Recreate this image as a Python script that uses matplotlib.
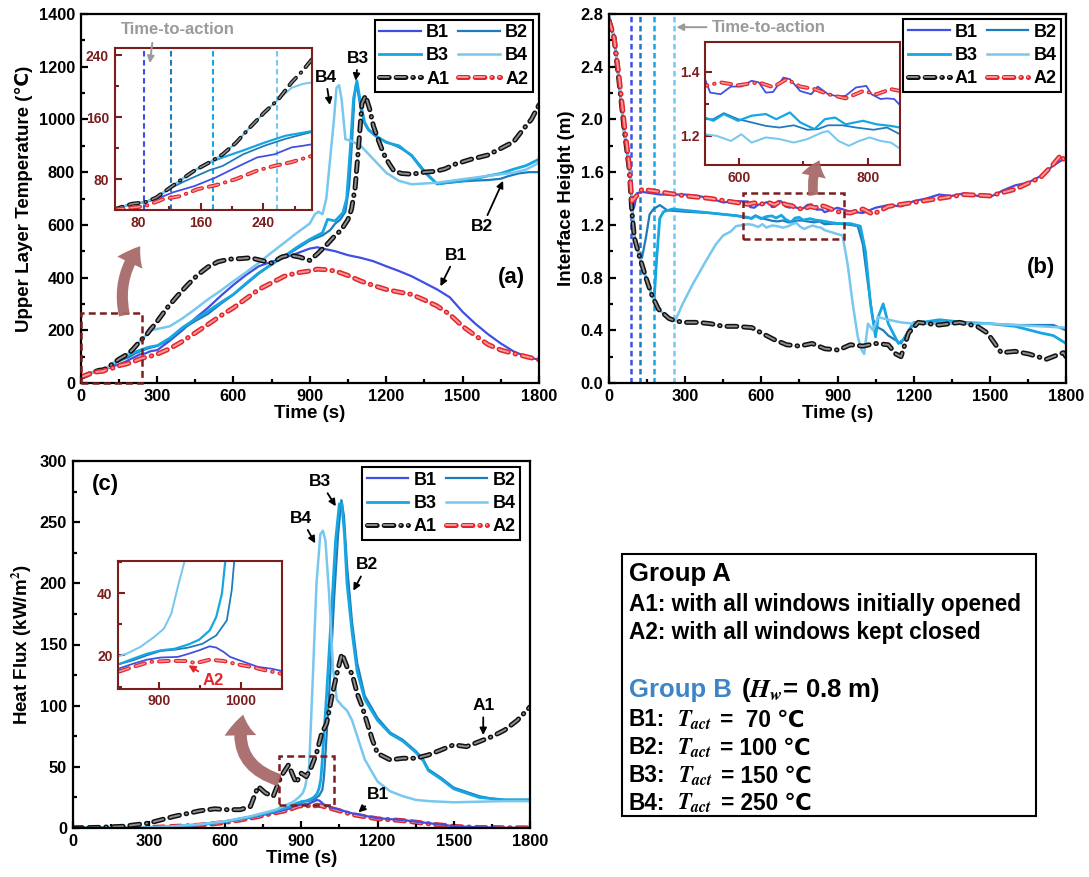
import matplotlib
matplotlib.use("Agg")
import matplotlib.pyplot as plt
import matplotlib.patheffects as pe
from matplotlib.patches import Rectangle, FancyArrowPatch
from matplotlib.ticker import MultipleLocator, FormatStrFormatter

plt.rcParams["font.family"] = ["Liberation Sans", "DejaVu Sans"]
plt.rcParams["font.weight"] = "bold"
plt.rcParams["axes.labelweight"] = "bold"
plt.rcParams["mathtext.fontset"] = "stix"
plt.rcParams["lines.scale_dashes"] = False

W, H = 1089, 877

# ---------------- (a) upper layer temperature ----------------
temp_time_B1 = [0, 50, 72, 89, 103, 125, 152, 179, 205, 232, 254, 276, 290, 302, 350, 400, 450, 500, 550, 600,
                650, 700, 750, 800, 850, 900, 930, 960, 1000, 1050, 1100, 1150, 1200, 1250, 1300, 1350, 1400, 1450,
                1500, 1550, 1600, 1650, 1700, 1750, 1800]
temp_B1 = [22, 41, 48, 50, 54, 63, 71, 82, 95, 108, 112, 121, 123, 125, 160, 200, 245, 285, 330, 372,
           410, 443, 460, 475, 492, 510, 515, 508, 500, 485, 475, 462, 443, 425, 405, 380, 355, 325,
           270, 225, 185, 150, 120, 100, 88]

temp_time_B2 = [0, 50, 72, 89, 103, 121, 139, 170, 188, 214, 241, 268, 302, 350, 400, 450, 500, 550, 600, 650,
                700, 750, 800, 850, 900, 950, 980, 1000, 1020, 1040, 1055, 1065, 1075, 1082, 1090, 1100, 1115, 1130,
                1160, 1200, 1250, 1300, 1350, 1400, 1450, 1500, 1550, 1600, 1650, 1680, 1720, 1760, 1800]
temp_B2 = [22, 41, 48, 50, 56, 68, 77, 91, 97, 112, 123, 132, 141, 165, 205, 235, 262, 300, 335, 375,
           415, 450, 480, 510, 540, 560, 580, 605, 620, 650, 750, 900, 1080, 1135, 1100, 1040, 985, 960,
           935, 915, 895, 865, 805, 755, 760, 765, 768, 770, 775, 785, 795, 800, 800]

temp_time_B3 = [0, 50, 72, 89, 103, 121, 139, 152, 170, 188, 214, 241, 268, 302, 350, 400, 450, 500, 550, 600,
                650, 700, 750, 800, 850, 900, 950, 970, 1000, 1030, 1045, 1060, 1072, 1085, 1100, 1115, 1130, 1160,
                1200, 1250, 1300, 1350, 1400, 1450, 1500, 1550, 1600, 1650, 1700, 1750, 1800]
temp_B3 = [22, 41, 48, 50, 56, 69, 82, 91, 101, 108, 117, 127, 136, 142, 170, 210, 242, 272, 305, 336,
           378, 418, 450, 481, 515, 545, 570, 621, 615, 646, 700, 900, 1080, 1147, 1060, 990, 963, 938,
           913, 900, 862, 800, 755, 762, 767, 775, 786, 795, 811, 825, 849]

temp_time_B4 = [0, 50, 72, 89, 103, 121, 139, 152, 170, 188, 205, 223, 241, 259, 276, 290, 302, 350, 400, 450,
                500, 550, 600, 650, 700, 750, 800, 850, 900, 920, 935, 950, 965, 980, 995, 1005, 1015, 1025, 1040,
                1060, 1100, 1150, 1200, 1250, 1300, 1400, 1500, 1600, 1700, 1750, 1800]
temp_B4 = [22, 41, 48, 50, 56, 69, 82, 91, 101, 112, 127, 147, 166, 183, 198, 203, 205, 215, 245, 280,
           317, 350, 386, 420, 456, 495, 532, 570, 605, 640, 650, 640, 700, 850, 1000, 1120, 1130, 1077, 925,
           919, 900, 849, 798, 767, 754, 760, 773, 786, 798, 810, 836]

temp_time_A1 = [0, 50, 72, 89, 103, 121, 139, 152, 170, 188, 205, 223, 241, 259, 276, 290, 302, 340, 380, 420,
                460, 500, 540, 585, 630, 667, 710, 750, 790, 820, 860, 900, 930, 968, 1000, 1023, 1050, 1064, 1078,
                1092, 1105, 1119, 1135, 1150, 1170, 1190, 1210, 1230, 1260, 1300, 1350, 1392, 1430, 1470, 1530,
                1600, 1660, 1700, 1740, 1770, 1800]
temp_A1 = [20, 41, 48, 50, 56, 69, 82, 91, 101, 112, 127, 147, 166, 183, 205, 220, 235, 285, 330, 372,
           410, 440, 460, 470, 472, 475, 465, 455, 478, 485, 478, 465, 490, 526, 560, 580, 620, 660, 740,
           900, 1060, 1090, 1040, 975, 920, 870, 835, 805, 795, 792, 800, 803, 812, 830, 848,
           865, 895, 915, 965, 1000, 1055]

temp_time_A2 = [0, 54, 89, 112, 134, 156, 179, 205, 232, 254, 276, 302, 350, 400, 450, 500, 550, 600, 650, 700,
                750, 800, 850, 900, 930, 960, 1000, 1050, 1100, 1150, 1200, 1250, 1300, 1350, 1400, 1450, 1500,
                1550, 1600, 1650, 1700, 1750, 1800]
temp_A2 = [22, 41, 45, 54, 58, 67, 72, 80, 91, 97, 102, 110, 130, 158, 190, 222, 255, 285, 320, 355,
           380, 405, 418, 425, 432, 430, 425, 408, 387, 370, 355, 345, 336, 315, 292, 260, 215,
           180, 146, 125, 112, 100, 88]

# ---------------- (b) interface height ----------------
height_time_B1 = [0, 20, 40, 60, 75, 85, 92, 100, 110, 130, 200, 250, 300, 350, 400, 450, 500, 548, 556, 572,
                  588, 604, 620, 631, 642, 653, 669, 679, 695, 712, 722, 738, 754, 765, 781, 797, 805, 819, 829, 840,
                  849, 900, 950, 1000, 1050, 1100, 1150, 1200, 1250, 1300, 1350, 1400, 1450, 1500, 1550, 1600,
                  1650, 1700, 1750, 1800]
height_B1 = [2.78, 2.62, 2.28, 1.90, 1.72, 1.58, 1.30, 1.34, 1.44, 1.45, 1.43, 1.43, 1.43, 1.42, 1.40, 1.37, 1.38,
             1.377, 1.335, 1.33, 1.354, 1.354, 1.372, 1.367, 1.335, 1.337, 1.382, 1.377, 1.34, 1.33, 1.354, 1.33,
             1.323, 1.325, 1.351, 1.356, 1.33, 1.315, 1.317, 1.315, 1.296, 1.33, 1.30, 1.29, 1.33, 1.35, 1.34,
             1.38, 1.40, 1.43, 1.42, 1.44, 1.42, 1.41, 1.46, 1.50, 1.52, 1.57, 1.65, 1.71]

height_time_B2 = [0, 20, 40, 60, 75, 85, 92, 100, 120, 130, 145, 160, 175, 200, 230, 300, 400, 500, 548, 561,
                  577, 599, 620, 642, 663, 685, 706, 722, 738, 760, 781, 808, 829, 849, 900, 950, 980, 1000, 1020,
                  1040, 1060, 1080, 1100, 1150, 1180, 1200, 1300, 1400, 1500, 1600, 1700, 1750, 1800]
height_B2 = [2.78, 2.62, 2.28, 1.90, 1.72, 1.58, 1.30, 1.10, 0.96, 0.95, 1.10, 1.28, 1.32, 1.35, 1.31, 1.30, 1.29,
             1.27, 1.252, 1.252, 1.271, 1.252, 1.242, 1.231, 1.226, 1.233, 1.219, 1.221, 1.233, 1.233, 1.226,
             1.219, 1.226, 1.205, 1.21, 1.20, 1.19, 1.05, 0.75, 0.48, 0.42, 0.40, 0.36, 0.30, 0.40, 0.46, 0.46,
             0.45, 0.45, 0.44, 0.44, 0.44, 0.40]

height_time_B3 = [0, 20, 40, 60, 75, 85, 92, 100, 120, 147, 170, 178, 188, 200, 215, 250, 300, 400, 500, 548,
                  561, 577, 599, 620, 642, 658, 679, 695, 717, 733, 749, 765, 792, 813, 835, 849, 900, 950, 990,
                  1010, 1030, 1050, 1060, 1080, 1100, 1140, 1160, 1200, 1300, 1400, 1500, 1600, 1700, 1750, 1800]
height_B3 = [2.78, 2.62, 2.28, 1.90, 1.72, 1.58, 1.30, 1.10, 0.96, 0.79, 0.66, 0.64, 0.95, 1.25, 1.30, 1.32, 1.31,
             1.29, 1.27, 1.257, 1.247, 1.268, 1.247, 1.263, 1.268, 1.252, 1.273, 1.242, 1.221, 1.252, 1.257,
             1.236, 1.247, 1.236, 1.231, 1.226, 1.21, 1.21, 1.19, 1.00, 0.60, 0.35, 0.50, 0.60, 0.45, 0.30,
             0.33, 0.45, 0.48, 0.46, 0.45, 0.43, 0.38, 0.36, 0.30]

height_time_B4 = [0, 20, 40, 60, 75, 85, 92, 100, 120, 147, 170, 195, 236, 260, 290, 330, 380, 420, 450, 480,
                  500, 548, 566, 588, 604, 620, 642, 663, 685, 706, 728, 738, 754, 770, 786, 802, 819, 835, 849,
                  900, 920, 940, 960, 980, 995, 1005, 1020, 1040, 1060, 1100, 1150, 1200, 1300, 1400, 1500, 1600,
                  1700, 1800]
height_B4 = [2.78, 2.62, 2.28, 1.90, 1.72, 1.58, 1.30, 1.10, 0.96, 0.79, 0.66, 0.56, 0.49, 0.47, 0.60, 0.75, 0.92,
             1.05, 1.12, 1.15, 1.19, 1.205, 1.20, 1.184, 1.205, 1.179, 1.195, 1.19, 1.179, 1.19, 1.21, 1.215,
             1.184, 1.169, 1.184, 1.195, 1.184, 1.179, 1.16, 1.13, 1.12, 0.90, 0.60, 0.35, 0.25, 0.22, 0.45,
             0.40, 0.50, 0.48, 0.46, 0.45, 0.45, 0.45, 0.45, 0.44, 0.43, 0.42]

height_time_A1 = [0, 20, 40, 60, 80, 90, 100, 120, 147, 170, 195, 236, 263, 300, 350, 400, 450, 500, 563, 600,
                  650, 700, 750, 800, 850, 904, 950, 1000, 1050, 1100, 1130, 1150, 1180, 1218, 1300, 1381, 1450,
                  1490, 1545, 1600, 1654, 1722, 1790, 1800]
height_A1 = [2.75, 2.62, 2.28, 1.92, 1.62, 1.30, 1.10, 0.96, 0.79, 0.66, 0.56, 0.49, 0.47, 0.46, 0.46, 0.45, 0.43,
             0.43, 0.42, 0.38, 0.33, 0.29, 0.28, 0.30, 0.26, 0.25, 0.29, 0.28, 0.30, 0.29, 0.22, 0.20, 0.38,
             0.46, 0.44, 0.46, 0.43, 0.38, 0.23, 0.24, 0.22, 0.18, 0.23, 0.20]

height_time_A2 = [0, 20, 40, 60, 80, 90, 100, 130, 200, 300, 400, 500, 548, 572, 599, 631, 653, 674, 695, 717,
                  738, 765, 792, 813, 835, 849, 900, 950, 1000, 1040, 1100, 1200, 1300, 1400, 1500, 1600, 1700,
                  1750, 1780, 1800]
height_A2 = [2.75, 2.62, 2.32, 1.97, 1.65, 1.38, 1.40, 1.47, 1.45, 1.42, 1.40, 1.37, 1.356, 1.367, 1.358, 1.367,
             1.352, 1.377, 1.354, 1.346, 1.33, 1.317, 1.34, 1.33, 1.346, 1.34, 1.30, 1.29, 1.32, 1.28, 1.34,
             1.37, 1.40, 1.43, 1.42, 1.47, 1.56, 1.66, 1.73, 1.67]

# ---------------- (c) heat flux ----------------
flux_time_B1 = [0, 300, 400, 500, 600, 700, 800, 850, 868, 885, 902, 923, 936, 949, 962, 970, 979, 987, 1004,
                1021, 1038, 1050, 1100, 1150, 1200, 1300, 1400, 1500, 1600, 1700, 1800]
flux_B1 = [0, 0.3, 1, 2.5, 5, 8.5, 13, 15.7, 17.3, 18.6, 19.3, 19.5, 20.5, 21.6, 22.9, 22.5, 21.1, 19.5, 17.9,
           16.3, 15.7, 15, 12, 10, 8, 6.5, 4, 1.5, 0.5, 0.2, 0.1]

flux_time_B2 = [0, 300, 400, 500, 600, 700, 800, 850, 868, 885, 902, 919, 936, 953, 970, 983, 989, 992, 1010,
                1030, 1045, 1058, 1068, 1080, 1100, 1120, 1150, 1200, 1250, 1300, 1350, 1380, 1400, 1450, 1500,
                1600, 1650, 1700, 1800]
flux_B2 = [0, 0.3, 1.1, 2.7, 5, 9, 14, 17.1, 18.4, 20, 21.4, 21.8, 22.5, 23.7, 26.4, 31.2, 40.9, 50, 110,
           190, 240, 268, 255, 215, 168, 135, 108, 90, 78, 72, 63, 56, 48, 41, 33,
           26, 24, 23, 23]

flux_time_B3 = [0, 300, 400, 500, 600, 700, 800, 850, 868, 885, 902, 919, 936, 949, 962, 970, 977, 981, 1000,
                1020, 1035, 1050, 1060, 1070, 1080, 1100, 1120, 1150, 1200, 1250, 1300, 1350, 1380, 1400, 1450,
                1500, 1600, 1650, 1700, 1800]
flux_B3 = [0, 0.3, 1.2, 2.8, 5, 9, 14, 17.1, 18.9, 20.5, 21.6, 22.1, 23.5, 25, 28, 32.3, 39.8, 50, 110,
           180, 235, 265, 265, 240, 200, 160, 128, 105, 88, 77, 71, 62, 55, 47, 40,
           32, 25, 24, 23, 23]

flux_time_B4 = [0, 300, 400, 500, 600, 700, 800, 850, 860, 877, 894, 906, 915, 923, 931, 945, 960, 975, 985,
                995, 1010, 1025, 1040, 1060, 1080, 1100, 1150, 1200, 1250, 1300, 1350, 1400, 1500, 1600, 1700,
                1800]
flux_B4 = [0, 0.5, 1.5, 3, 5.5, 9.5, 15, 19.7, 20.5, 22.7, 25.9, 28.6, 33.4, 42, 50, 120, 200, 240, 243,
           235, 190, 130, 105, 100, 96, 88, 56, 38, 30, 26, 23, 22, 21, 21.5, 22, 22]

flux_time_A1 = [0, 100, 200, 300, 400, 500, 560, 600, 660, 700, 730, 760, 790, 820, 850, 880, 900, 920, 940,
                960, 980, 1000, 1020, 1040, 1060, 1080, 1100, 1120, 1140, 1160, 1180, 1200, 1250, 1300, 1350,
                1400, 1450, 1500, 1550, 1600, 1650, 1700, 1750, 1800]
flux_A1 = [0, 0.5, 1.4, 4, 9.5, 14, 15.7, 15, 15, 17.6, 34, 28.5, 26, 42, 51.6, 36.7, 44.8, 42, 50,
           61, 77, 85.5, 107, 126, 142.5, 131.7, 126, 110, 99, 85.5, 72, 61, 55.7, 57, 57,
           59.7, 63.8, 68, 66.5, 70.6, 74.7, 80, 88, 99]

flux_time_A2 = [0, 300, 500, 600, 700, 800, 850, 868, 889, 911, 932, 945, 962, 979, 996, 1013, 1030, 1050, 1100,
                1200, 1300, 1400, 1500, 1600, 1800]
flux_A2 = [0, 0.3, 2.3, 4.5, 8, 12.5, 14.7, 16.3, 17.9, 18.2, 18.2, 17.5, 18.6, 18.2, 17.1, 16.3, 15.2, 14.1, 11,
           7.5, 6, 3.5, 1.3, 0.4, 0.1]

# time-to-action of the B cases (s)
action_time = [88, 122, 176, 257]

group_a_lines = ["A1: with all windows initially opened", "A2: with all windows kept closed"]
group_b_temps = ["70", "100", "150", "250"]

# ---------------- styles ----------------
LINE_COLORS = {"B1": "#3F4FE3", "B2": "#1F7BBC", "B3": "#16A6E2", "B4": "#78C7EF",
               "A1": "#8E8E8E", "A2": "#F59A9A"}
EDGE_COLORS = {"A1": "#111111", "A2": "#E5252B"}
LINE_WIDTHS = {"B1": 1.6, "B2": 1.6, "B3": 2.0, "B4": 1.8}
DASH = (7, 5, 7, 5, 0.4, 5)
MAROON = "#7B1E1E"
ARROW_COLOR = "#A86A6A"
GREY = "#9A9A9A"


def px_rect(l, t, r, b):
    return [l / W, 1 - b / H, (r - l) / W, (b - t) / H]


def plot_panel(ax, data, scale=1.0, skip=(), a2_under=False):
    for key in ["B1", "B2", "B3", "B4"]:
        t, v = data[key]
        ax.plot(t, v, color=LINE_COLORS[key], lw=LINE_WIDTHS[key] * scale, label=key, zorder=2)
    for key in ["A1", "A2"]:
        if key in skip:
            continue
        t, v = data[key]
        z = 1.5 if (key == "A2" and a2_under) else 2.5
        ax.plot(t, v, color=LINE_COLORS[key], lw=1.4 * scale, label=key, dashes=DASH,
                dash_capstyle="round", zorder=z,
                path_effects=[pe.Stroke(linewidth=3.6 * scale, foreground=EDGE_COLORS[key]), pe.Normal()])


def style_axes(ax, xmaj, xmin, ymaj, ymin, color="black", size=11.8, lw=1.6):
    ax.xaxis.set_major_locator(MultipleLocator(xmaj))
    ax.xaxis.set_minor_locator(MultipleLocator(xmin))
    ax.yaxis.set_major_locator(MultipleLocator(ymaj))
    ax.yaxis.set_minor_locator(MultipleLocator(ymin))
    ax.tick_params(which="both", direction="in", top=False, right=False, width=lw,
                   colors=color, labelsize=size, pad=4)
    ax.tick_params(which="major", length=5)
    ax.tick_params(which="minor", length=3)
    for sp in ax.spines.values():
        sp.set_linewidth(lw)
        sp.set_color(color)


def add_legend(ax, anchor):
    handles, labels = ax.get_legend_handles_labels()
    lookup = dict(zip(labels, handles))
    order = ["B1", "B3", "A1", "B2", "B4", "A2"]
    leg = ax.legend([lookup[k] for k in order], order, ncol=2, loc="upper right",
                    bbox_to_anchor=anchor, fontsize=13, frameon=True, fancybox=False,
                    edgecolor="black", framealpha=1, handlelength=2.3, handletextpad=0.3,
                    columnspacing=0.5, labelspacing=0.35, borderpad=0.25, borderaxespad=0)
    leg.get_frame().set_linewidth(1.5)


def label_arrow(ax, text, xy, xytext, size=12.5, color="black"):
    ax.annotate(text, xy=xy, xytext=xytext, ha="center", va="center", fontsize=size,
                color=color, fontweight="bold", annotation_clip=False,
                arrowprops=dict(arrowstyle="-|>", color=color, lw=1.3, mutation_scale=10,
                                shrinkA=1, shrinkB=0))


def big_arrow(p0, p1, rad, head_w=2.0, head_l=1.4, tail_w=0.8):
    arr = FancyArrowPatch((p0[0] / W, 1 - p0[1] / H), (p1[0] / W, 1 - p1[1] / H),
                          transform=fig.transFigure,
                          arrowstyle=f"simple,head_length={head_l},head_width={head_w},tail_width={tail_w}",
                          connectionstyle=f"arc3,rad={rad}", mutation_scale=10,
                          color=ARROW_COLOR, alpha=0.95, lw=0, zorder=5)
    fig.add_artist(arr)


temp_data = {"B1": (temp_time_B1, temp_B1), "B2": (temp_time_B2, temp_B2), "B3": (temp_time_B3, temp_B3),
             "B4": (temp_time_B4, temp_B4), "A1": (temp_time_A1, temp_A1), "A2": (temp_time_A2, temp_A2)}
height_data = {"B1": (height_time_B1, height_B1), "B2": (height_time_B2, height_B2),
               "B3": (height_time_B3, height_B3), "B4": (height_time_B4, height_B4),
               "A1": (height_time_A1, height_A1), "A2": (height_time_A2, height_A2)}
flux_data = {"B1": (flux_time_B1, flux_B1), "B2": (flux_time_B2, flux_B2), "B3": (flux_time_B3, flux_B3),
             "B4": (flux_time_B4, flux_B4), "A1": (flux_time_A1, flux_A1), "A2": (flux_time_A2, flux_A2)}

fig = plt.figure(figsize=(W / 100, H / 100), dpi=100)

# ---------------- panel (a) ----------------
ax_a = fig.add_axes(px_rect(80.5, 14, 539, 383))
plot_panel(ax_a, temp_data)
ax_a.set_xlim(0, 1800)
ax_a.set_ylim(0, 1400)
style_axes(ax_a, 300, 150, 200, 100)
ax_a.set_xlabel("Time (s)", fontsize=13.5, labelpad=1)
ax_a.set_ylabel("Upper Layer Temperature (℃)", fontsize=13.5, labelpad=4)
add_legend(ax_a, (0.986, 0.985))
ax_a.add_patch(Rectangle((0, 0), 243, 266, fill=False, ec=MAROON, lw=1.8, ls=(0, (5, 3)), clip_on=False, zorder=6))
label_arrow(ax_a, "B4", (979, 1055), (962, 1160))
label_arrow(ax_a, "B3", (1080, 1147), (1091, 1232))
label_arrow(ax_a, "B2", (1659, 767), (1577, 593))
label_arrow(ax_a, "B1", (1413, 367), (1474, 485))
ax_a.text(1693, 399, "(a)", fontsize=16, ha="center", va="center")

ins_a = fig.add_axes(px_rect(114.6, 48.4, 312, 210))
plot_panel(ins_a, temp_data, scale=0.8)
for t_act, key in zip(action_time, ["B1", "B2", "B3", "B4"]):
    ins_a.axvline(t_act, color=LINE_COLORS[key], lw=1.5, ls=(0, (4, 2.5)), zorder=0)
ins_a.set_xlim(50, 302)
ins_a.set_ylim(40, 249)
style_axes(ins_a, 80, 40, 80, 40, color=MAROON, size=10, lw=1.5)
ins_a.annotate("Time-to-action", xy=(95, 230), xytext=(131, 273), ha="center", va="center",
               fontsize=12, color=GREY, fontweight="bold", annotation_clip=False,
               arrowprops=dict(arrowstyle="-|>", color=GREY, lw=1.4, relpos=(0.28, 0.0),
                               shrinkA=2, shrinkB=0, mutation_scale=10))

# ---------------- panel (b) ----------------
ax_b = fig.add_axes(px_rect(609, 14, 1066, 383))
for t_act, key in zip(action_time, ["B1", "B2", "B3", "B4"]):
    ax_b.axvline(t_act, color=LINE_COLORS[key], lw=1.8, ls=(0, (4, 2.5)), zorder=1)
plot_panel(ax_b, height_data)
ax_b.set_xlim(0, 1800)
ax_b.set_ylim(0, 2.8)
style_axes(ax_b, 300, 150, 0.4, 0.2)
ax_b.yaxis.set_major_formatter(FormatStrFormatter("%.1f"))
ax_b.set_xlabel("Time (s)", fontsize=13.5, labelpad=1)
ax_b.set_ylabel("Interface Height (m)", fontsize=13.5, labelpad=4)
add_legend(ax_b, (0.990, 0.986))
ax_b.add_patch(Rectangle((526, 1.095), 400, 0.345, fill=False, ec=MAROON, lw=1.8, ls=(0, (5, 3)), zorder=6))
ax_b.annotate("Time-to-action", xy=(266, 2.70), xytext=(406, 2.70), ha="left", va="center",
              fontsize=12, color=GREY, fontweight="bold",
              arrowprops=dict(arrowstyle="-|>", color=GREY, lw=1.4, relpos=(0.0, 0.5),
                              shrinkA=2, shrinkB=0, mutation_scale=10))
ax_b.text(1702, 0.874, "(b)", fontsize=16, ha="center", va="center")

ins_b = fig.add_axes(px_rect(705, 41.7, 900, 165))
plot_panel(ins_b, height_data, scale=0.8)
ins_b.set_xlim(548, 849)
ins_b.set_ylim(1.109, 1.494)
style_axes(ins_b, 200, 100, 0.2, 0.1, color=MAROON, size=10, lw=1.5)
ins_b.yaxis.set_major_formatter(FormatStrFormatter("%.1f"))

# ---------------- panel (c) ----------------
ax_c = fig.add_axes(px_rect(72.5, 461, 530, 828))
plot_panel(ax_c, flux_data, a2_under=True)
ax_c.set_xlim(0, 1800)
ax_c.set_ylim(0, 300)
style_axes(ax_c, 300, 150, 50, 25)
ax_c.set_xlabel("Time (s)", fontsize=13.5, labelpad=1)
ax_c.set_ylabel(r"Heat Flux (kW/m$^\mathbf{2}$)", fontsize=13.5, labelpad=4)
add_legend(ax_c, (0.979, 0.983))
ax_c.add_patch(Rectangle((811, 18.5), 216, 40.5, fill=False, ec=MAROON, lw=1.8, ls=(0, (5, 3)), zorder=6))
ax_c.text(130, 281, "(c)", fontsize=16, ha="center", va="center")
label_arrow(ax_c, "B3", (1036, 263), (975, 283))
label_arrow(ax_c, "B4", (955, 232.7), (900, 253))
label_arrow(ax_c, "B2", (1105, 194), (1159, 215))
label_arrow(ax_c, "A1", (1616, 76), (1616, 100))
label_arrow(ax_c, "B1", (1125, 12.8), (1200, 27))

ins_c = fig.add_axes(px_rect(118.3, 560.9, 281.5, 688.7))
plot_panel(ins_c, flux_data, scale=0.8, skip=("A1",))
ins_c.set_xlim(850, 1050)
ins_c.set_ylim(9.3, 50.3)
style_axes(ins_c, 100, 50, 20, 10, color=MAROON, size=10, lw=1.5)
label_arrow(ins_c, "A2", (936, 16.8), (966, 12.0), size=12, color=EDGE_COLORS["A2"])

# big curved pointers from the boxes to the insets
big_arrow((125, 318), (142, 244), -0.25)
big_arrow((814, 198), (821, 158), -0.2, head_w=1.8, head_l=1.2, tail_w=0.7)
big_arrow((282, 781), (244, 712), -0.5, head_w=2.3, head_l=1.5, tail_w=0.9)

# ---------------- description box ----------------
fig.add_artist(Rectangle((622 / W, 1 - 816 / H), (1036 - 622) / W, (816 - 554) / H,
                         transform=fig.transFigure, fill=False, ec="black", lw=1.5))
renderer = fig.canvas.get_renderer()


def put_pieces(x_px, base_px, pieces):
    x = x_px
    for s, color, size, gap in pieces:
        txt = fig.text(x / W, 1 - base_px / H, s, color=color, fontsize=size, fontweight="bold",
                       ha="left", va="baseline")
        x = txt.get_window_extent(renderer).x1 + gap


put_pieces(629, 581, [("Group A", "black", 18.5, 0)])
for line, base in zip(group_a_lines, [610.5, 638.5]):
    put_pieces(629, base, [(line, "black", 16.3, 0)])
put_pieces(629, 697.5, [("Group B", "#3D85C6", 18.5, 9), (r"($H_w$= 0.8 m)", "black", 18.5, 0)])
for i, (temp, base) in enumerate(zip(group_b_temps, [726.5, 754.5, 782.5, 810])):
    value = temp if len(temp) == 3 else " " + temp
    put_pieces(629, base, [(f"B{i + 1}:", "black", 16.3, 12), (r"$T_{act}$", "black", 16.3, 8),
                           (f"= {value} ℃", "black", 16.3, 0)])

fig.savefig("out.png", dpi=100)
